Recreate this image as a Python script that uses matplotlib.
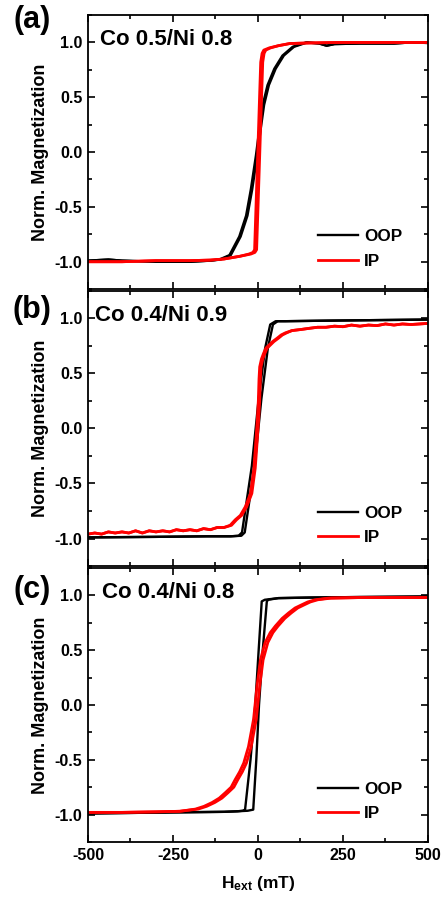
import matplotlib
matplotlib.use('Agg')
import matplotlib.pyplot as plt
from matplotlib.ticker import MultipleLocator

plt.rcParams['font.family'] = ['Liberation Sans', 'DejaVu Sans']
plt.rcParams['font.weight'] = 'bold'
plt.rcParams['axes.labelweight'] = 'bold'
plt.rcParams['axes.unicode_minus'] = False
plt.rcParams['mathtext.fontset'] = 'custom'
plt.rcParams['mathtext.rm'] = 'Liberation Sans:bold'
plt.rcParams['mathtext.it'] = 'Liberation Sans:bold'
plt.rcParams['mathtext.bf'] = 'Liberation Sans:bold'

# ---- panel (a): Co 0.5/Ni 0.8 ----
a_oop_M = [-0.99, -0.985, -0.98, -0.99, -1.0, -1.0, -0.99, -0.98, -0.94, -0.77, -0.58, -0.34, -0.03,
           0.21, 0.43, 0.61, 0.76, 0.88, 0.96, 1.0, 0.99, 0.97, 0.985, 0.99, 0.99, 1.0, 0.995]
a_oop_H_up = [-500, -470, -440, -400, -300, -200, -139, -110, -80, -51, -31, -17, -2, 8, 18, 32, 52,
              76, 106, 145, 180, 202, 225, 300, 400, 450, 500]
a_oop_H_dn = [-500, -470, -440, -400, -300, -200, -143, -114, -84, -55, -35, -21, -6, 4, 14, 28, 48,
              72, 102, 141, 180, 202, 225, 300, 400, 450, 500]

a_ip_M = [-1.0, -1.0, -0.99, -0.99, -0.985, -0.975, -0.95, -0.93, -0.915, -0.89, -0.51, -0.13, 0.25,
          0.54, 0.82, 0.9, 0.93, 0.95, 0.97, 0.99, 0.995, 1.0, 1.0, 1.0]
a_ip_H_up = [-500, -400, -300, -200, -141, -100, -53, -21, -9, -4, 0, 4, 8, 11, 14, 18, 23, 37, 60,
             94, 150, 250, 350, 500]
a_ip_H_dn = [-500, -400, -300, -200, -141, -100, -53, -27, -15, -10, -6, -2, 2, 5, 8, 12, 17, 33, 60,
             94, 150, 250, 350, 500]

# ---- panel (b): Co 0.4/Ni 0.9 ----
b_oop_M = [-0.99, -0.985, -0.98, -0.98, -0.975, -0.945, -0.34, 0.27, 0.73, 0.945, 0.975, 0.975,
           0.98, 0.985, 0.99]
b_oop_H_up = [-500, -300, -150, -80, -49, -39, -10, 10, 29, 44, 58, 80, 200, 350, 500]
b_oop_H_dn = [-500, -300, -150, -80, -57, -47, -18, 2, 21, 36, 52, 80, 200, 350, 500]

b_ip_M = [-0.96, -0.95, -0.96, -0.94, -0.95, -0.94, -0.95, -0.93, -0.95, -0.93, -0.94, -0.93, -0.94,
          -0.92, -0.93, -0.92, -0.93, -0.91, -0.92, -0.90, -0.90,
          -0.88, -0.83, -0.79, -0.71, -0.59, -0.36, -0.10, 0.08, 0.25, 0.45, 0.56, 0.63, 0.68,
          0.73, 0.76, 0.79, 0.82, 0.85, 0.87, 0.89,
          0.90, 0.91, 0.92, 0.92, 0.93, 0.925, 0.94, 0.93, 0.94, 0.935, 0.95, 0.94, 0.95, 0.945,
          0.95, 0.955]
b_ip_H_up = [-500, -480, -460, -440, -420, -400, -380, -360, -340, -320, -300, -280, -260, -240,
             -220, -200, -180, -160, -140, -120, -100,
             -78, -63, -48, -33, -18, -8, -2, 2, 5, 7, 9, 14, 20, 27, 37, 47, 60, 72, 85, 100,
             127, 150, 175, 200, 225, 250, 275, 300, 325, 350, 375, 400, 425, 450, 475, 500]
b_ip_H_dn = [-500, -480, -460, -440, -420, -400, -380, -360, -340, -320, -300, -280, -260, -240,
             -220, -200, -180, -160, -140, -120, -100,
             -82, -67, -52, -37, -22, -12, -6, -2, 1, 3, 5, 10, 16, 23, 33, 43, 56, 68, 81, 100,
             127, 150, 175, 200, 225, 250, 275, 300, 325, 350, 375, 400, 425, 450, 475, 500]

# ---- panel (c): Co 0.4/Ni 0.8 ----
c_oop_M = [-0.99, -0.98, -0.975, -0.97, -0.965, -0.955, -0.5, 0.0, 0.5, 0.945, 0.96, 0.975, 0.98,
           0.985, 0.99]
c_oop_H_up = [-500, -250, -100, -60, -30, -14, -5, 3, 14, 26, 30, 60, 150, 300, 500]
c_oop_H_dn = [-500, -250, -100, -60, -45, -38, -22, -8, 2, 11, 20, 60, 150, 300, 500]

c_ip_M = [-0.98, -0.98, -0.975, -0.97, -0.95, -0.925, -0.89, -0.85, -0.80, -0.75, -0.68, -0.61,
          -0.53, -0.38, -0.13, 0.17, 0.41, 0.57, 0.66, 0.72, 0.79, 0.84, 0.885, 0.915, 0.94, 0.96,
          0.975, 0.98, 0.98, 0.98]
c_ip_H_up = [-500, -400, -300, -230, -176, -151, -127, -106, -88, -71, -59, -46, -34, -20, -5, 5, 15,
             29, 44, 59, 79, 98, 117, 137, 154, 176, 215, 300, 400, 500]
c_ip_H_dn = [-500, -400, -300, -230, -184, -159, -135, -114, -96, -79, -67, -54, -42, -28, -13, -3, 7,
             21, 36, 51, 71, 90, 109, 129, 146, 168, 207, 300, 400, 500]

titles = ['Co 0.5/Ni 0.8', 'Co 0.4/Ni 0.9', 'Co 0.4/Ni 0.8']
letters = ['(a)', '(b)', '(c)']
panels = [
    (a_oop_H_up, a_oop_H_dn, a_oop_M, a_ip_H_up, a_ip_H_dn, a_ip_M),
    (b_oop_H_up, b_oop_H_dn, b_oop_M, b_ip_H_up, b_ip_H_dn, b_ip_M),
    (c_oop_H_up, c_oop_H_dn, c_oop_M, c_ip_H_up, c_ip_H_dn, c_ip_M),
]

fig = plt.figure(figsize=(4.41, 8.98), dpi=100)
boxes = [[0.1995, 0.678, 0.771, 0.3053],
         [0.1995, 0.3697, 0.771, 0.3063],
         [0.1995, 0.0624, 0.771, 0.3051]]
letter_y = [1 - 20 / 898, 1 - 310 / 898, 1 - 590 / 898]
title_x = [0.035, 0.02, 0.04]

for i, (box, data) in enumerate(zip(boxes, panels)):
    ax = fig.add_axes(box)
    oop_up, oop_dn, oop_m, ip_up, ip_dn, ip_m = data
    ax.plot(oop_up, oop_m, color='black', lw=1.7, label='OOP')
    ax.plot(oop_dn, oop_m, color='black', lw=1.7)
    ax.plot(ip_up, ip_m, color='red', lw=2.0, label='IP')
    ax.plot(ip_dn, ip_m, color='red', lw=2.0)

    ax.set_xlim(-500, 500)
    ax.set_ylim(-1.25, 1.25)
    ax.xaxis.set_major_locator(MultipleLocator(250))
    ax.xaxis.set_minor_locator(MultipleLocator(125))
    ax.yaxis.set_major_locator(MultipleLocator(0.5))
    ax.yaxis.set_minor_locator(MultipleLocator(0.25))
    ax.yaxis.set_major_formatter(plt.FormatStrFormatter('%.1f'))
    ax.tick_params(which='both', direction='in', top=True, right=True, width=1.2,
                   labelsize=11.5, pad=4)
    ax.tick_params(which='major', length=5)
    ax.tick_params(which='minor', length=3)
    for s in ax.spines.values():
        s.set_linewidth(1.3)

    ax.set_ylabel('Norm. Magnetization', fontsize=13)
    ax.yaxis.set_label_coords(-0.115, 0.5)
    if i < 2:
        ax.tick_params(labelbottom=False)
    else:
        ax.set_xlabel('H$_{ext}$ (mT)', fontsize=12.5, labelpad=8)

    ax.text(title_x[i], 0.91, titles[i], transform=ax.transAxes, fontsize=16,
            ha='left', va='center')
    fig.text(32 / 441, letter_y[i], letters[i], fontsize=22, ha='center', va='center')

    ax.legend(loc='lower right', bbox_to_anchor=(0.924, 0.075), frameon=False, fontsize=12.3,
              handlelength=2.35, handletextpad=0.35, labelspacing=0.55, borderpad=0,
              borderaxespad=0)

plt.savefig('out.png', dpi=100)
